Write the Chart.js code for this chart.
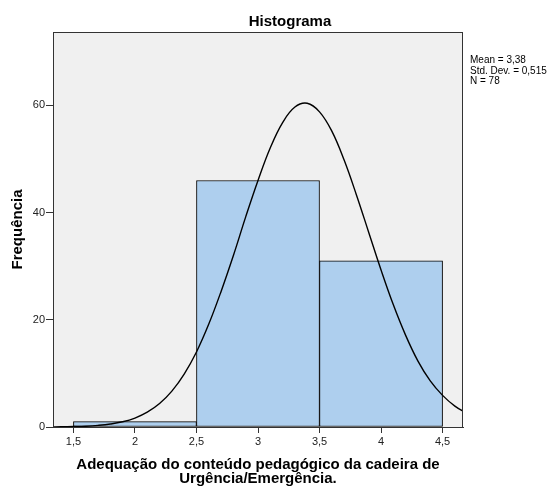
<!DOCTYPE html>
<html lang="pt">
<head>
  <meta charset="utf-8">
  <title>Histograma</title>
  <script src="https://cdn.jsdelivr.net/npm/chart.js"></script>
  <style>
    html, body { margin: 0; padding: 0; background: #fff; }
    #wrap { width: 553px; height: 486px; }
  </style>
</head>
<body>
<div id="wrap"><canvas id="histograma"></canvas></div>
<script>
// dados do histograma
const binCenters = [2, 3, 4];
const binCounts = [1, 46, 31];

// curva normal sobreposta
const curveX = [1.3, 1.4, 1.5, 1.6, 1.7, 1.8, 1.9, 2.0, 2.1, 2.2, 2.3, 2.4, 2.5, 2.6, 2.7, 2.8, 2.9, 3.0,
  3.1, 3.2, 3.3, 3.4, 3.5, 3.6, 3.7, 3.8, 3.9, 4.0, 4.1, 4.2, 4.3, 4.4, 4.5, 4.6, 4.7];
const curveY = [0.02, 0.04, 0.08, 0.15, 0.3, 0.55, 0.97, 1.67, 2.76, 4.38, 6.7, 9.88, 14.0, 19.2, 25.3, 32.0, 39.2, 46.0,
  52.1, 56.8, 59.7, 60.4, 58.8, 55.2, 49.8, 43.3, 36.3, 29.3, 22.8, 17.1, 12.3, 8.6, 5.9, 3.9, 2.5];

// eixos
const xTicks = [1.5, 2, 2.5, 3, 3.5, 4, 4.5];
const xTickLabels = ['1,5', '2', '2,5', '3', '3,5', '4', '4,5'];
const yTicks = [0, 20, 40, 60];

const statsLines = ['Mean = 3,38', 'Std. Dev. = 0,515', 'N = 78'];

const fonte = '"Liberation Sans", Arial, sans-serif';

// fundo cinza e moldura da área do gráfico + textos extras
const extras = {
  id: 'extras',
  beforeDraw(chart) {
    const { ctx, chartArea: a } = chart;
    ctx.save();
    ctx.fillStyle = '#f0f0f0';
    ctx.fillRect(a.left, a.top, a.right - a.left, a.bottom - a.top);
    ctx.restore();
  },
  afterDraw(chart) {
    const { ctx, chartArea: a } = chart;
    ctx.save();
    ctx.strokeStyle = '#333';
    ctx.lineWidth = 1;
    ctx.strokeRect(a.left + 0.5, a.top + 0.5, a.right - a.left - 1, a.bottom - a.top);
    ctx.fillStyle = '#000';
    ctx.font = 'bold 15px ' + fonte;
    ctx.textAlign = 'center';
    ctx.textBaseline = 'alphabetic';
    ctx.fillText('Histograma', 290, 26);
    ctx.font = '10px ' + fonte;
    ctx.textAlign = 'left';
    statsLines.forEach((t, i) => ctx.fillText(t, 470, 63 + i * 10.5));
    ctx.restore();
  }
};

const grafico = new Chart(document.getElementById('histograma'), {
  data: {
    datasets: [
      {
        type: 'line',
        order: 0,
        data: curveX.map((x, i) => ({ x: x, y: curveY[i] })),
        borderColor: '#000',
        borderWidth: 1.4,
        pointRadius: 0,
        tension: 0.4,
        fill: false
      },
      {
        type: 'bar',
        order: 1,
        data: binCenters.map((x, i) => ({ x: x, y: binCounts[i] })),
        backgroundColor: '#aecfee',
        borderColor: '#000',
        borderWidth: 1,
        borderSkipped: false,
        barPercentage: 1,
        categoryPercentage: 1
      }
    ]
  },
  options: {
    responsive: true,
    maintainAspectRatio: false,
    animation: false,
    layout: { padding: { top: 32, right: 90, left: 0, bottom: 0 } },
    plugins: {
      legend: { display: false },
      tooltip: { enabled: false }
    },
    scales: {
      x: {
        type: 'linear',
        min: 1.334,
        max: 4.666,
        offset: false,
        afterFit(s) { s.height = 59; },
        afterBuildTicks(s) { s.ticks = xTicks.map(v => ({ value: v })); },
        ticks: {
          callback: (v) => xTickLabels[xTicks.indexOf(v)],
          font: { family: fonte, size: 11 },
          color: '#222',
          padding: 2,
          maxRotation: 0
        },
        grid: { offset: false, drawOnChartArea: false, drawTicks: true, tickLength: 6, color: '#333' },
        border: { color: '#333' },
        title: {
          display: true,
          text: ['Adequação do conteúdo pedagógico da cadeira de', 'Urgência/Emergência.'],
          font: { family: fonte, size: 15, weight: 'bold', lineHeight: 0.95 },
          color: '#000',
          padding: { top: 0, bottom: 0 }
        }
      },
      y: {
        min: 0,
        max: 73.7,
        afterFit(s) { s.width = 53; },
        afterBuildTicks(s) { s.ticks = yTicks.map(v => ({ value: v })); },
        ticks: {
          font: { family: fonte, size: 11 },
          color: '#222',
          padding: 1
        },
        grid: { drawOnChartArea: false, drawTicks: true, tickLength: 7, color: '#333' },
        border: { color: '#333' },
        title: {
          display: true,
          text: 'Frequência',
          font: { family: fonte, size: 15, weight: 'bold' },
          color: '#000',
          padding: { top: 9, bottom: 0 }
        }
      }
    }
  },
  plugins: [extras]
});

// largura das barras = uma classe (1 unidade) na escala x
const sx = grafico.scales.x;
grafico.data.datasets[1].barThickness = sx.getPixelForValue(binCenters[1]) - sx.getPixelForValue(binCenters[0]);
grafico.update();
</script>
</body>
</html>
